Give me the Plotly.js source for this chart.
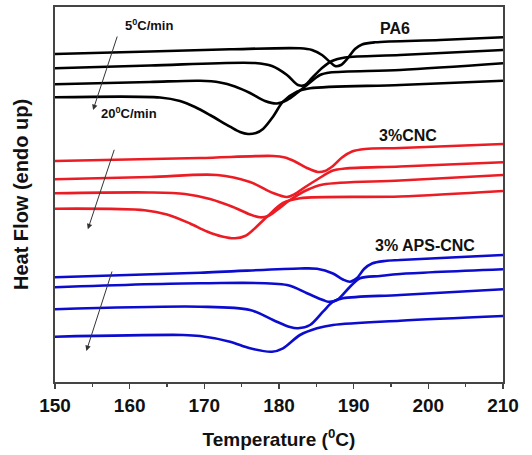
<!DOCTYPE html>
<html>
<head>
<meta charset="utf-8">
<script src="https://cdn.plot.ly/plotly-3.0.1.min.js"></script>
<style>
  html, body { margin: 0; padding: 0; background: #fff; }
  #chart { width: 532px; height: 455px; }
</style>
</head>
<body>
<div id="chart"></div>
<script>
// DSC cooling scans, stacked: PA6, 3%CNC, 3% APS-CNC at 5, 10, 15, 20 °C/min

// PA6
const pa6T1 = [150, 162.72, 173.44, 182.81, 184.42, 185.76, 186.83, 187.50, 188.30, 189.24, 190.18, 191.12, 192.86, 201.56, 210];
const pa6H1 = [328, 330.5, 332.7, 333.7, 332, 327, 320, 316, 317, 324, 333, 337.5, 339.7, 342, 344.7];
const pa6T2 = [150, 162.72, 176.79, 179.06, 181.07, 182.54, 183.48, 184.42, 185.76, 187.1, 188.84, 196.21, 210];
const pa6H2 = [313.7, 316.5, 319, 316, 307, 297, 297, 304, 314, 321, 324.5, 327, 332];
const pa6T3 = [150, 162.72, 169.42, 172.1, 174.1, 176.12, 178.13, 179.73, 181.07, 182.41, 183.75, 185.49, 186.83, 196.21, 210];
const pa6H3 = [297.7, 300, 301.2, 299.5, 295.5, 289, 281, 278.5, 282, 289, 297, 307, 309.5, 312, 318.7];
const pa6T4 = [150, 164.06, 166.74, 168.75, 170.76, 173.44, 174.78, 175.85, 176.92, 177.86, 179.2, 180.54, 182.41, 184.15, 196.21, 210];
const pa6H4 = [284.7, 284.5, 281, 275, 267, 255.3, 250, 248, 249, 253, 265.3, 280.3, 290.3, 293.7, 297, 301.3];

// 3%CNC
const cncT1 = [150, 169.42, 179.2, 180.8, 182.14, 183.75, 185.22, 186.16, 187.23, 188.44, 189.78, 191.52, 196.21, 210];
const cncH1 = [221, 224, 226, 224.5, 220.5, 214, 210, 211, 216, 224.5, 230.5, 233, 234, 238];
const cncT2 = [150, 162.72, 171.7, 176.12, 179.2, 181.07, 182.14, 183.21, 185.22, 187.23, 188.84, 196.21, 210];
const cncH2 = [202.7, 205, 207, 200, 189, 185, 188, 193.5, 203, 211.5, 213.5, 215.5, 219.7];
const cncT3 = [150, 162.72, 167.41, 170.76, 173.84, 176.12, 177.46, 178.53, 179.73, 181.47, 183.75, 185.89, 196.21, 210];
const cncH3 = [188.7, 189.5, 188, 183, 175, 167.5, 164.7, 166, 172, 182, 192, 197.5, 201.5, 207];
const cncT4 = [150, 162.0, 165.0, 168.08, 170.36, 172.37, 174.11, 175.45, 176.52, 178.39, 180.54, 182.81, 196.21, 210];
const cncH4 = [173.3, 171.8, 167.5, 158.5, 150.5, 145.5, 143.7, 146, 152, 165.3, 179, 183.7, 185.5, 191];

// 3% APS-CNC
const apsT1 = [150, 169.42, 182.81, 185.09, 187.23, 188.57, 189.51, 190.45, 191.39, 192.46, 194.2, 196.21, 210];
const apsH1 = [104.7, 109.3, 113.5, 113.2, 108.5, 102.5, 100.3, 104, 113, 118.5, 121, 122, 127];
const apsT2 = [150, 169.42, 181.07, 183.75, 185.89, 186.56, 187.77, 189.51, 190.85, 193.53, 196.21, 210];
const apsH2 = [94.7, 98.7, 97, 88.7, 82, 80.3, 82, 95.3, 103.7, 106, 108, 112.7];
const apsT3 = [150, 169.42, 176.12, 179.2, 181.47, 182.54, 184.15, 185.89, 187.23, 188.57, 196.21, 210];
const apsH3 = [72.7, 75.3, 72, 62, 55, 53.7, 57, 70.3, 80.3, 83.7, 87, 92.7];
const apsT4 = [150, 167.14, 169.42, 173.44, 176.12, 179.06, 180.54, 182.81, 185.09, 187.23, 196.21, 210];
const apsH4 = [45.3, 47, 46, 40.3, 33.7, 30.3, 33.7, 47, 53.7, 57, 61.3, 66];

const xTicks = [150, 160, 170, 180, 190, 200, 210];

const BLACK = '#000000';
const RED = '#ec1c24';
const BLUE = '#0c0ccf';

function curve(x, y, color) {
  return {
    x: x, y: y, type: 'scatter', mode: 'lines',
    line: { color: color, width: 2.6, shape: 'spline', smoothing: 0.9 },
    hoverinfo: 'skip', showlegend: false
  };
}

const traces = [
  curve(pa6T1, pa6H1, BLACK), curve(pa6T2, pa6H2, BLACK),
  curve(pa6T3, pa6H3, BLACK), curve(pa6T4, pa6H4, BLACK),
  curve(cncT1, cncH1, RED), curve(cncT2, cncH2, RED),
  curve(cncT3, cncH3, RED), curve(cncT4, cncH4, RED),
  curve(apsT1, apsH1, BLUE), curve(apsT2, apsH2, BLUE),
  curve(apsT3, apsH3, BLUE), curve(apsT4, apsH4, BLUE)
];

const FONT = 'Liberation Sans, Arial, Helvetica, sans-serif';

function label(text, x, y, size) {
  return {
    text: text, x: x, y: y, xref: 'x', yref: 'y', showarrow: false,
    font: { family: FONT, size: size, color: '#111', weight: 'bold' },
    xanchor: 'center', yanchor: 'middle'
  };
}

function rateArrow(x0, y0, x1, y1) {
  return {
    text: '', x: x1, y: y1, ax: x0, ay: y0,
    xref: 'x', yref: 'y', axref: 'x', ayref: 'y',
    showarrow: true, arrowhead: 2, arrowsize: 1.1, arrowwidth: 1,
    arrowcolor: '#333', standoff: 0, startstandoff: 0
  };
}

const layout = {
  width: 532, height: 455,
  margin: { l: 55, r: 29, t: 7, b: 73 },
  paper_bgcolor: '#fff', plot_bgcolor: '#fff',
  xaxis: {
    range: [150, 210], tickvals: xTicks, ticktext: xTicks.map(String),
    ticks: 'outside', ticklen: 5, tickwidth: 1.5, tickcolor: '#444',
    minor: { dtick: 5, ticks: 'outside', ticklen: 3, tickwidth: 1.5, tickcolor: '#444' },
    showline: true, linecolor: '#444', linewidth: 2, mirror: true,
    showgrid: false, zeroline: false,
    tickfont: { family: FONT, size: 19, color: '#111', weight: 'bold' },
    title: { text: 'Temperature (<sup>0</sup>C)', standoff: 18,
             font: { family: FONT, size: 19, color: '#111', weight: 'bold' } }
  },
  yaxis: {
    range: [0, 375], showticklabels: false, ticks: '',
    showline: true, linecolor: '#444', linewidth: 2, mirror: true,
    showgrid: false, zeroline: false,
    title: { text: 'Heat Flow (endo up)', standoff: 19,
             font: { family: FONT, size: 20, color: '#111', weight: 'bold' } }
  },
  annotations: [
    label('5<sup>0</sup>C/min', 162.6, 357, 13),
    label('20<sup>0</sup>C/min', 159.9, 269, 13),
    label('PA6', 195.5, 354, 16),
    label('3%CNC', 197.3, 247, 16),
    label('3% APS-CNC', 199.6, 137, 16),
    rateArrow(158.4, 347, 155.1, 272),
    rateArrow(158.0, 233.7, 154.4, 152.7),
    rateArrow(157.7, 112, 154.2, 31)
  ]
};

Plotly.newPlot('chart', traces, layout, { staticPlot: true, displayModeBar: false });
</script>
</body>
</html>
